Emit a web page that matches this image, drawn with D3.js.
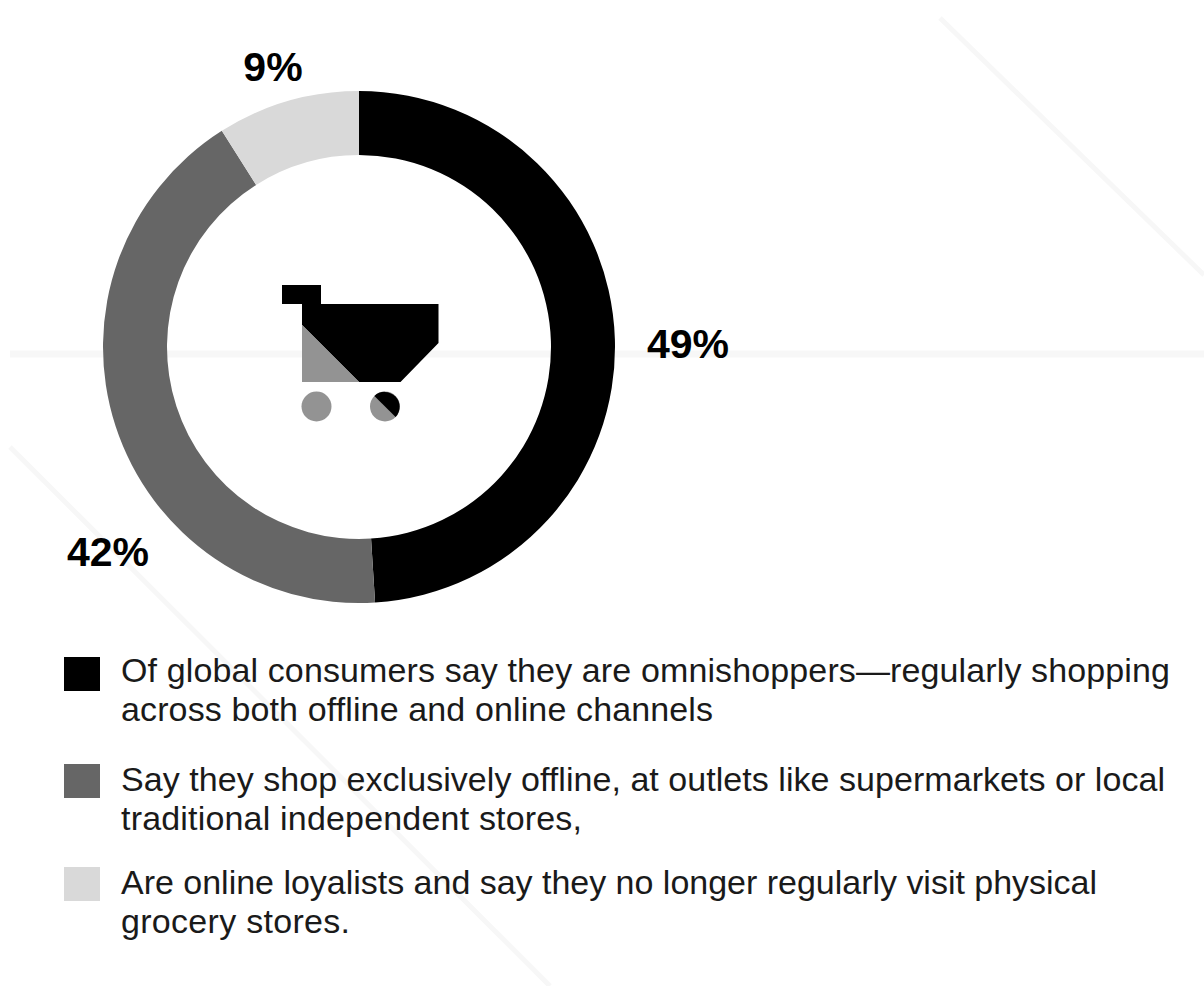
<!DOCTYPE html>
<html><head><meta charset="utf-8">
<script src="https://cdn.jsdelivr.net/npm/d3@7"></script>
<style>html,body{margin:0;background:#fff}svg{display:block}text{font-family:"Liberation Sans",Arial,sans-serif}</style>
</head><body><svg id="c" width="1204" height="986"></svg>
<script>
const shares=[49,42,9];
const shareLabels=["49%","42%","9%"];
const colours=["#000000","#666666","#d9d9d9"];
const legendLines=[
 ["Of global consumers say they are omnishoppers—regularly shopping","across both offline and online channels"],
 ["Say they shop exclusively offline, at outlets like supermarkets or local","traditional independent stores,"],
 ["Are online loyalists and say they no longer regularly visit physical","grocery stores."]];
const legendWidths=[[1049,592],[1044,461],[976,229]];
const svg=d3.select("#c");
// faint background rules
const bg=svg.append("g").attr("stroke","#f7f7f7").attr("fill","none");
[[10,354,1204,354,7],[940,18,1204,275,5],[10,447,550,986,5]].forEach(l=>bg.append("line").attr("x1",l[0]).attr("y1",l[1]).attr("x2",l[2]).attr("y2",l[3]).attr("stroke-width",l[4]));
const cx=359,cy=347;
const pie=d3.pie().sort(null).value(d=>d);
const arc=d3.arc().innerRadius(192).outerRadius(256);
svg.append("g").attr("transform",`translate(${cx},${cy})`).selectAll("path").data(pie(shares)).join("path").attr("d",arc).attr("fill",(d,i)=>colours[i]);
const labelPos=[[688,358],[108,566],[273,81]];
svg.append("g").selectAll("text").data(shareLabels).join("text").text(d=>d)
 .attr("x",(d,i)=>labelPos[i][0]).attr("y",(d,i)=>labelPos[i][1]).attr("text-anchor","middle")
 .attr("font-size",41).attr("font-weight","bold");
// shopping cart icon
const cart=svg.append("g");
cart.append("path").attr("d","M282 285H321V304H438.500V343L400.500 382H359L302 325V304H282Z").attr("fill","#000");
cart.append("path").attr("d","M302 325L359 382H302Z").attr("fill","#939393");
cart.append("circle").attr("cx",316.500).attr("cy",406.500).attr("r",15).attr("fill","#939393");
cart.append("circle").attr("cx",385).attr("cy",406.500).attr("r",15).attr("fill","#939393");
cart.append("path").attr("d","M374.400 395.900A15 15 0 0 1 395.600 417.100Z").attr("fill","#000");
// legend
const legY=[657,764,867], textY=[682,791,894];
const leg=svg.append("g");
legendLines.forEach((ls,i)=>{
 leg.append("rect").attr("x",64).attr("y",legY[i]).attr("width",36).attr("height",34).attr("fill",colours[i]);
 ls.forEach((t,j)=>leg.append("text").text(t).attr("x",121).attr("y",textY[i]+j*39).attr("font-size",34)
  .attr("textLength",legendWidths[i][j]).attr("lengthAdjust","spacing").attr("fill","#1a1a1a"));
});
</script></body></html>
